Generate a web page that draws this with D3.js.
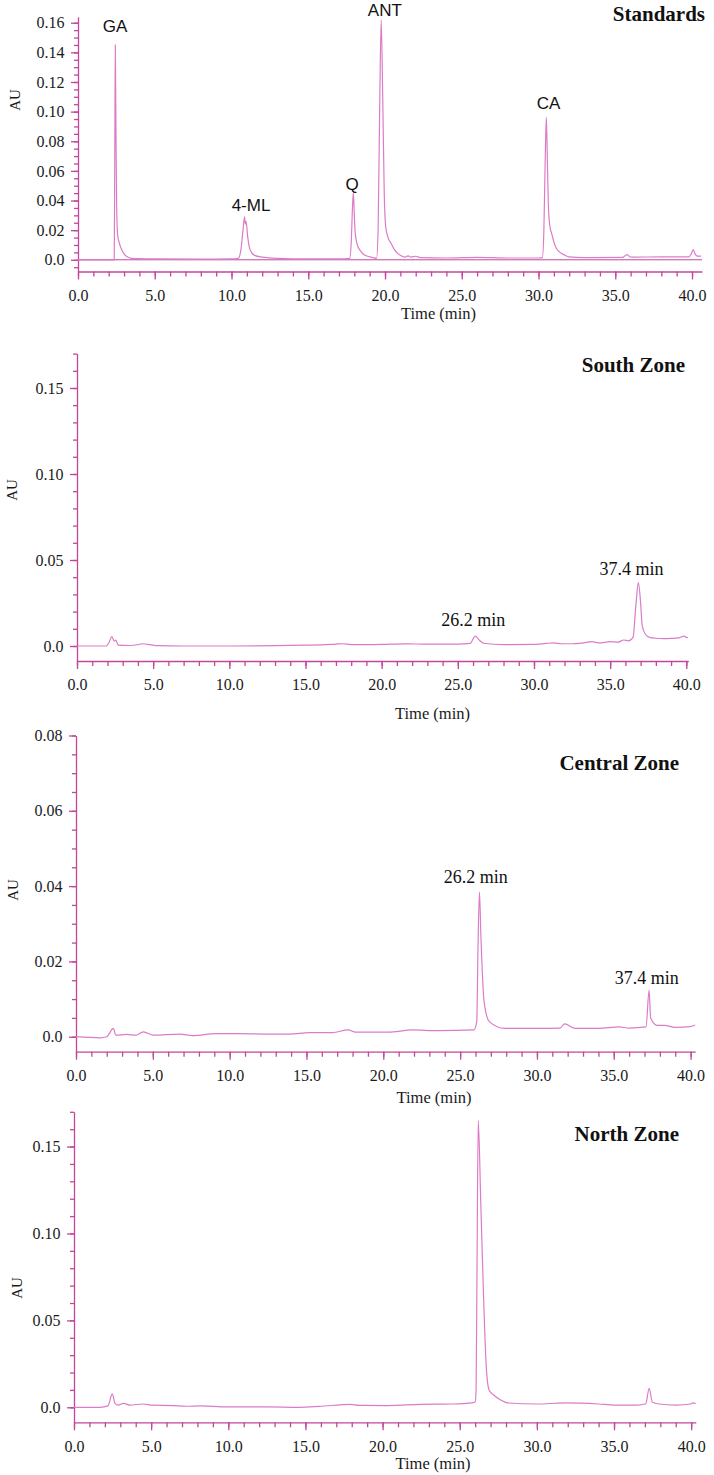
<!DOCTYPE html>
<html lang="en">

<script src="https://d3js.org/d3.v7.min.js"></script>

<head>
    <meta charset="UTF-8">
    <title>Chromatograms</title>

    <style>
        body {
            margin: 0;
            background-color: white;
        }

        .tickText text {
            font-family: "Liberation Serif", serif;
            font-size: 16px;
            fill: #1a1a1a;
        }
    </style>
</head>
<body>

    <svg width="714" height="1475"></svg>

    <script>
        // ---- data: [time (min), AU] ----
        const standardsTrace = [
            [0, 0.0], [2.0, 0.0], [2.36, 0.0], [2.40, 0.08], [2.43, 0.145], [2.47, 0.09], [2.52, 0.035],
            [2.58, 0.017], [2.7, 0.011], [2.8, 0.008], [3.0, 0.004], [3.2, 0.002], [3.5, 0.001],
            [5, 0.0006], [8, 0.0004], [10, 0.0006], [10.45, 0.001], [10.6, 0.006], [10.75, 0.020],
            [10.85, 0.029], [10.9, 0.024], [10.95, 0.026], [11.05, 0.016], [11.15, 0.009], [11.3, 0.005],
            [11.5, 0.003], [12, 0.0018], [13, 0.001], [15, 0.0006], [17, 0.0006], [17.7, 0.001],
            [17.8, 0.012], [17.88, 0.035], [17.94, 0.0454], [18.0, 0.030], [18.06, 0.018], [18.2, 0.010],
            [18.4, 0.006], [18.7, 0.003], [19.2, 0.0015], [19.45, 0.001], [19.55, 0.02], [19.65, 0.1],
            [19.75, 0.162], [19.85, 0.11], [19.95, 0.045], [20.05, 0.022], [20.2, 0.015], [20.4, 0.011],
            [20.6, 0.007], [20.8, 0.0045], [21.1, 0.0025], [21.3, 0.0018], [21.5, 0.0027], [21.7, 0.0018],
            [22.0, 0.0024], [22.3, 0.0015], [24, 0.0012], [26, 0.0016], [28, 0.0012], [30, 0.0012],
            [30.25, 0.0015], [30.35, 0.02], [30.45, 0.075], [30.51, 0.0962], [30.57, 0.07], [30.65, 0.035],
            [30.75, 0.022], [30.85, 0.018], [31.0, 0.012], [31.15, 0.008], [31.4, 0.005], [31.7, 0.0032],
            [32, 0.002], [33, 0.0015], [35.5, 0.0017], [35.75, 0.0035], [36.0, 0.0018], [38, 0.002],
            [39.8, 0.002], [39.95, 0.004], [40.08, 0.0068], [40.2, 0.004], [40.35, 0.0025], [40.6, 0.0025]
        ];

        const southTrace = [
            [0, 0.0], [1.9, 0.0], [2.1, 0.002], [2.28, 0.0054], [2.45, 0.0028], [2.55, 0.0035], [2.7, 0.0005],
            [3.5, 0.0003], [4.0, 0.0008], [4.3, 0.0013], [4.8, 0.0008], [5.3, 0.0002], [7, 0.0], [10, 0.0],
            [13, 0.0002], [15, 0.0005], [16, 0.0006], [17, 0.0011], [17.4, 0.0013], [18, 0.0008],
            [20, 0.0009], [21.5, 0.0012], [23, 0.0011], [25, 0.0011], [25.8, 0.0015], [26.15, 0.0058],
            [26.4, 0.0035], [26.7, 0.0016], [28, 0.0008], [30, 0.0009], [30.8, 0.0015], [31.3, 0.0018],
            [31.8, 0.0013], [32.5, 0.0013], [33, 0.0015], [33.8, 0.0025], [34.3, 0.0018], [35, 0.0025],
            [35.5, 0.0022], [35.9, 0.0035], [36.2, 0.003], [36.5, 0.005], [36.7, 0.025], [36.85, 0.0368],
            [37.0, 0.025], [37.1, 0.012], [37.3, 0.007], [37.6, 0.005], [38, 0.0045], [38.5, 0.0043],
            [39, 0.0044], [39.5, 0.0047], [39.85, 0.0058], [40.0, 0.005], [40.1, 0.0048]
        ];

        const centralTrace = [
            [0, 0.0], [1.56, -0.0003], [2.0, 0.0], [2.43, 0.0022], [2.6, 0.0004], [3.3, 0.0006], [3.9, 0.0004],
            [4.38, 0.0013], [5.03, 0.0004], [6.77, 0.0007], [7.6, 0.0003], [9.1, 0.0008], [10.6, 0.0008],
            [12.3, 0.0007], [13.9, 0.0007], [15.2, 0.0011], [16.7, 0.0011], [17.7, 0.0018], [18.2, 0.0012],
            [20.3, 0.0012], [21.9, 0.0018], [23.5, 0.0016], [25.9, 0.0018], [26.08, 0.004], [26.17, 0.025],
            [26.26, 0.0384], [26.35, 0.027], [26.56, 0.0093], [26.9, 0.004], [27.9, 0.0022], [30, 0.0022],
            [31.5, 0.0023], [31.8, 0.0034], [32.5, 0.0022], [34, 0.0022], [35.35, 0.0026], [36, 0.0023],
            [37.1, 0.0026], [37.3, 0.0124], [37.4, 0.005], [37.85, 0.003], [38.3, 0.003], [39, 0.0025],
            [40, 0.0027], [40.3, 0.0031]
        ];

        const northTrace = [
            [0, 0.0], [1.69, 0.0], [2.2, 0.0008], [2.48, 0.0077], [2.66, 0.0023], [2.87, 0.0013], [3.2, 0.0023],
            [3.6, 0.0013], [4.5, 0.0019], [5.1, 0.0012], [6.4, 0.001], [7.3, 0.0006], [8.2, 0.0008],
            [9.9, 0.0002], [12.5, 0.0002], [14.6, 0.0], [15.9, 0.0005], [17.9, 0.0017], [18.5, 0.0011],
            [20.3, 0.001], [22.5, 0.0017], [24.6, 0.0019], [25.8, 0.0025], [26.0, 0.003], [26.06, 0.01],
            [26.12, 0.08], [26.2, 0.165], [26.36, 0.119], [26.55, 0.062], [26.72, 0.0234], [26.9, 0.010],
            [27.2, 0.0071], [27.65, 0.0042], [28.1, 0.0025], [30, 0.0019], [31.8, 0.0025], [34, 0.0019],
            [35, 0.0013], [36.5, 0.0013], [37.05, 0.0019], [37.28, 0.0109], [37.48, 0.003], [37.9, 0.0019],
            [39, 0.0013], [39.97, 0.0019], [40.1, 0.0025], [40.3, 0.0022]
        ];

        // peak names on the standards run, with where each label sits [time, AU]
        const standardNames = ["GA", "4-ML", "Q", "ANT", "CA"];
        const standardLabelAt = [[2.41, 0.1535], [11.27, 0.033], [17.85, 0.0472], [19.99, 0.1645], [30.65, 0.1016]];

        // retention time notes on the samples
        const southNotes = ["26.2 min", "37.4 min"];
        const southNoteAt = [[26.02, 0.0116], [36.4, 0.0413]];
        const centralNotes = ["26.2 min", "37.4 min"];
        const centralNoteAt = [[26.02, 0.0409], [37.15, 0.0139]];

        // axis ticks
        const timeTicks = [0, 5, 10, 15, 20, 25, 30, 35, 40];
        const timeMinor = d3.range(0, 41, 1);
        const standardsYTicks = [0, 0.02, 0.04, 0.06, 0.08, 0.10, 0.12, 0.14, 0.16];
        const wideYTicks = [0, 0.05, 0.10, 0.15];
        const centralYTicks = [0, 0.02, 0.04, 0.06, 0.08];

        // ---- drawing ----
        const svgElement = d3.select('svg');
        const axisColor = "#c2479c";
        const traceColor = "#dc7cc6";

        // one entry per chromatogram, layout in pixels
        const panels = [
            { title: "Standards", trace: standardsTrace, xMax: 40.65, xRange: [78, 702], yDomain: [-0.0079, 0.164], yRange: [271.5, 16.8],
              yTicks: standardsYTicks, yMinorStep: 0.005, titleAt: [705, 20.5], auAt: [15, 100], timeAt: [438.5, 313], zeroLine: true,
              names: standardNames, namesAt: standardLabelAt, nameFont: "'Liberation Sans', Arial, sans-serif" },
            { title: "South Zone", trace: southTrace, xMax: 40.13, xRange: [77, 688.3], yDomain: [-0.00872, 0.17], yRange: [661, 353.6],
              yTicks: wideYTicks, yMinorStep: 0.01, titleAt: [685, 372], auAt: [12, 490], timeAt: [432.5, 713],
              names: southNotes, namesAt: southNoteAt, nameFont: "'Liberation Serif', serif" },
            { title: "Central Zone", trace: centralTrace, xMax: 40.3, xRange: [76, 695.2], yDomain: [-0.00398, 0.08], yRange: [1051.7, 735.5],
              yTicks: centralYTicks, yMinorStep: 0.005, titleAt: [679, 770], auAt: [12.7, 890], timeAt: [434, 1097],
              names: centralNotes, namesAt: centralNoteAt, nameFont: "'Liberation Serif', serif" },
            { title: "North Zone", trace: northTrace, xMax: 40.3, xRange: [74, 695.8], yDomain: [-0.00863, 0.17], yRange: [1422.3, 1111.8],
              yTicks: wideYTicks, yMinorStep: 0.01, titleAt: [679, 1141], auAt: [16.7, 1288], timeAt: [433, 1463],
              names: [], namesAt: [], nameFont: "serif" }
        ];

        panels.forEach((panel) => {
            const x = d3.scaleLinear().domain([0, panel.xMax]).range(panel.xRange);
            const y = d3.scaleLinear().domain(panel.yDomain).range(panel.yRange);
            const xAxisY = panel.yRange[0];
            const yAxisX = panel.xRange[0];

            const g = svgElement.append("g");

            // minor ticks first so the major axes sit on top
            const yMinor = d3.range(0, panel.yDomain[1] + 1e-9, panel.yMinorStep)
                .concat(d3.range(-panel.yMinorStep, panel.yDomain[0], -panel.yMinorStep));
            g.append("g")
                .attr("transform", `translate(${yAxisX},0)`)
                .call(d3.axisLeft(y).tickValues(yMinor).tickSize(4).tickFormat(""))
                .call(a => a.select(".domain").remove());
            g.append("g")
                .attr("transform", `translate(0,${xAxisY})`)
                .call(d3.axisBottom(x).tickValues(timeMinor).tickSize(5).tickFormat(""))
                .call(a => a.select(".domain").remove());

            // major axes
            g.append("g")
                .attr("class", "tickText")
                .attr("transform", `translate(${yAxisX},0)`)
                .call(d3.axisLeft(y).tickValues(panel.yTicks).tickSize(7).tickSizeOuter(0).tickPadding(6.5)
                    .tickFormat(d => d === 0 ? "0.0" : d.toFixed(2)));
            g.append("g")
                .attr("class", "tickText")
                .attr("transform", `translate(0,${xAxisY})`)
                .call(d3.axisBottom(x).tickValues(timeTicks).tickSize(8).tickSizeOuter(0).tickPadding(10)
                    .tickFormat(d => d.toFixed(1)));

            g.selectAll(".domain, .tick line")
                .attr("stroke", axisColor)
                .attr("stroke-width", 1.3);

            // reference line at zero on the standards run
            if (panel.zeroLine) {
                g.append("line")
                    .attr("x1", x(0))
                    .attr("x2", x(panel.xMax))
                    .attr("y1", y(0))
                    .attr("y2", y(0))
                    .attr("stroke", axisColor)
                    .attr("stroke-width", 1);
            }

            // the chromatogram trace
            const line = d3.line()
                .x(d => x(d[0]))
                .y(d => y(d[1]))
                .curve(d3.curveMonotoneX);
            g.append("path")
                .datum(panel.trace)
                .attr("d", line)
                .attr("fill", "none")
                .attr("stroke", traceColor)
                .attr("stroke-width", 1.2);

            // peak names / retention notes
            panel.names.forEach((name, i) => {
                g.append("text")
                    .attr("x", x(panel.namesAt[i][0]))
                    .attr("y", y(panel.namesAt[i][1]))
                    .attr("text-anchor", "middle")
                    .style("font-family", panel.nameFont)
                    .style("font-size", panel.nameFont.includes("Sans") ? "17px" : "18px")
                    .attr("fill", "#111")
                    .text(name);
            });

            // panel title
            g.append("text")
                .attr("x", panel.titleAt[0])
                .attr("y", panel.titleAt[1])
                .attr("text-anchor", "end")
                .style("font-family", "'Liberation Serif', serif")
                .style("font-size", "21px")
                .style("font-weight", "bold")
                .attr("fill", "#111")
                .text(panel.title);

            // axis names
            g.append("text")
                .attr("transform", `translate(${panel.auAt[0]},${panel.auAt[1]}) rotate(-90)`)
                .attr("text-anchor", "middle")
                .attr("dominant-baseline", "central")
                .style("font-family", "'Liberation Serif', serif")
                .style("font-size", "15px")
                .attr("fill", "#1a1a1a")
                .text("AU");
            g.append("text")
                .attr("x", panel.timeAt[0])
                .attr("y", panel.timeAt[1])
                .attr("text-anchor", "middle")
                .attr("dominant-baseline", "central")
                .style("font-family", "'Liberation Serif', serif")
                .style("font-size", "16.5px")
                .attr("fill", "#1a1a1a")
                .text("Time (min)");
        });
    </script>
</body>
</html>
